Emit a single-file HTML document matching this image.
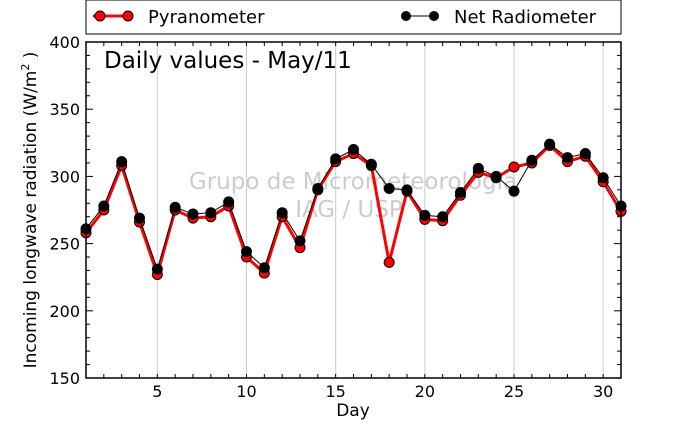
<!DOCTYPE html>
<html><head><meta charset="utf-8"><style>
body{margin:0;background:#fff}
svg text{font-family:"DejaVu Sans","Liberation Sans",sans-serif}
</style></head><body>
<svg id="chart" width="690" height="420" xmlns="http://www.w3.org/2000/svg">
<rect width="690" height="420" fill="#fff"/>
<g id="grid"></g>
<text x="353" y="189" font-size="23" fill="#ccc" text-anchor="middle">Grupo de Micrometeorologia</text>
<text x="349" y="217" font-size="23" fill="#ccc" text-anchor="middle">IAG / USP</text>
<g id="series"></g>
<rect x="86" y="42" width="535" height="336" fill="none" stroke="#000" stroke-width="1.5"/>
<g id="ticks"></g>
<text x="104" y="68" font-size="23">Daily values - May/11</text>
<text x="353" y="416" font-size="17" text-anchor="middle">Day</text>
<text transform="translate(36,210) rotate(-90)" font-size="17" text-anchor="middle">Incoming longwave radiation (W/m<tspan font-size="11" dy="-7">2</tspan><tspan dy="7"> )</tspan></text>
<g>
<rect x="86" y="0" width="535" height="34" fill="#fff" stroke="#000"/>
<g>
<line x1="93" y1="16" x2="133" y2="16" stroke="#f00" stroke-width="3"/>
<circle cx="100" cy="16" r="5" fill="#f00" stroke="#000"/><circle cx="128" cy="16" r="5" fill="#f00" stroke="#000"/>
<text x="148" y="23" font-size="18">Pyranometer</text></g>
<g>
<line x1="402" y1="16" x2="438" y2="16" stroke="#000" stroke-width="1"/>
<circle cx="406" cy="16" r="5" fill="#000"/><circle cx="434" cy="16" r="5" fill="#000"/>
<text x="454" y="23" font-size="18">Net Radiometer</text></g>
</g>
</svg>
<script>
const days=[1,2,3,4,5,6,7,8,9,10,11,12,13,14,15,16,17,18,19,20,21,22,23,24,25,26,27,28,29,30,31];
const pyranometer=[258,275,308,266,227,275,269,270,278,240,228,270,247,290,311,317,308,236,289,268,267,286,303,299,307,310,323,311,315,296,274];
const netRadiometer=[261,278,311,269,231,277,272,273,281,244,232,273,252,291,313,320,309,291,290,271,270,288,306,300,289,312,324,314,317,299,278];
const xTicks=[5,10,15,20,25,30];
const yTicks=[150,200,250,300,350,400];
const X0=86,X1=621,Y0=378,Y1=42;
const x=d=>X0+(d-1)/(31-1)*(X1-X0);
const y=v=>Y0-(v-150)/(400-150)*(Y0-Y1);
const NS="http://www.w3.org/2000/svg";
function mk(tag,attrs,parent){const e=document.createElementNS(NS,tag);for(const k in attrs)e.setAttribute(k,attrs[k]);parent.appendChild(e);return e;}
const grid=document.getElementById('grid'),ticks=document.getElementById('ticks'),series=document.getElementById('series');
xTicks.forEach(t=>{
 const g=mk('line',{x1:x(t),x2:x(t),y1:Y1,y2:Y0,stroke:'#ccc','stroke-width':1},grid);
 
 
 const lb=mk('text',{x:x(t),y:397,'font-size':16,'text-anchor':'middle'},ticks);lb.textContent=t;
 
 
});
days.forEach(d=>{mk('line',{x1:x(d),x2:x(d),y1:Y0,y2:Y0-4,stroke:'#000'},ticks);mk('line',{x1:x(d),x2:x(d),y1:Y1,y2:Y1+4,stroke:'#000'},ticks);});
for(let v=150;v<=400;v+=10){const L=v%50==0?7:4;
 mk('line',{x1:X0,x2:X0+L,y1:y(v),y2:y(v),stroke:'#000'},ticks);
 mk('line',{x1:X1,x2:X1-L,y1:y(v),y2:y(v),stroke:'#000'},ticks);}
yTicks.forEach(t=>{const lb=mk('text',{x:X0-6,y:y(t)+6,'font-size':16,'text-anchor':'end'},ticks);lb.textContent=t;
 
 });
function draw(vals,color,w,name){
 const p=mk('polyline',{points:vals.map((v,i)=>x(days[i])+','+y(v)).join(' '),fill:'none',stroke:color,'stroke-width':w},series);
 
 
 vals.forEach((v,i)=>{const c=mk('circle',{cx:x(days[i]),cy:y(v),r:5,fill:color,stroke:'#000','stroke-width':1},series);
  
  });
}
draw(pyranometer,'#f00',3,'pyranometer');
draw(netRadiometer,'#000',1,'net-radiometer');
</script>
</body></html>
